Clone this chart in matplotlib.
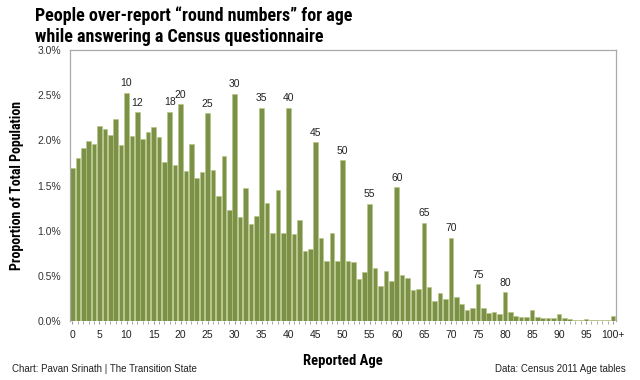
import numpy as np
import matplotlib
matplotlib.use("Agg")
import matplotlib.pyplot as plt
from matplotlib import font_manager

# Reported age (0..100+) and share of total population in percent
ages = list(range(101))
share = [
    1.69, 1.81, 1.92, 1.99, 1.96, 2.16, 2.13, 2.06, 2.24, 1.95,
    2.53, 2.05, 2.31, 2.02, 2.09, 2.15, 2.04, 1.76, 2.32, 1.73,
    2.40, 1.66, 1.96, 1.59, 1.65, 2.30, 1.67, 1.39, 1.83, 1.23,
    2.52, 1.15, 1.47, 1.07, 1.16, 2.36, 1.31, 0.98, 1.45, 0.98,
    2.36, 0.96, 1.12, 0.78, 0.80, 1.98, 0.92, 0.67, 0.97, 0.66,
    1.78, 0.66, 0.65, 0.47, 0.54, 1.30, 0.59, 0.39, 0.56, 0.44,
    1.48, 0.51, 0.48, 0.34, 0.35, 1.09, 0.38, 0.22, 0.31, 0.24,
    0.92, 0.27, 0.19, 0.12, 0.14, 0.41, 0.15, 0.09, 0.10, 0.08,
    0.32, 0.10, 0.06, 0.04, 0.04, 0.12, 0.05, 0.03, 0.03, 0.03,
    0.08, 0.03, 0.02, 0.01, 0.01, 0.02, 0.01, 0.01, 0.01, 0.01,
    0.06,
]
labelled = [10, 12, 18, 20, 25, 30, 35, 40, 45, 50, 55, 60, 65, 70, 75, 80]
tick_ages = list(range(0, 101, 5))
tick_labels = [str(a) for a in tick_ages[:-1]] + ["100+"]

# pick a condensed bold face if one is installed
installed = {f.name for f in font_manager.fontManager.ttflist}
narrow_name = None
for name in ['Liberation Sans Narrow', 'DejaVu Sans Condensed', 'Roboto Condensed']:
    if name in installed:
        narrow_name = name
        break
if narrow_name:
    head = [narrow_name, 'DejaVu Sans']
    title_size, ylab_size = 13, 10
else:
    head = ['Liberation Sans', 'DejaVu Sans']
    title_size, ylab_size = 11, 9

plt.rcParams['font.family'] = ['Liberation Sans', 'DejaVu Sans']

fig = plt.figure(figsize=(6.4, 3.8), dpi=100)
ax = fig.add_axes([0.109, 0.155, 0.853, 0.713])

ax.bar(ages, share, width=0.85, color='#7b9147', edgecolor='#b5c57e', linewidth=0.4)

for a in labelled:
    ax.text(a, share[a] + 0.05, str(a), ha='center', va='bottom', fontsize=7.5, color='#222222')

ax.set_xlim(-0.5, 100.5)
ax.set_ylim(0, 3.0)
ax.set_yticks(np.arange(0, 3.01, 0.5))
ax.set_yticklabels([f"{v:.1f}%" for v in np.arange(0, 3.01, 0.5)], fontsize=7.5, color='#333333')
ax.set_xticks(tick_ages)
ax.set_xticklabels(tick_labels, fontsize=7.5, color='#222222')
ax.set_xticks(ages, minor=True)
ax.tick_params(axis='x', which='both', length=2.5, color='#999999', pad=4)
ax.tick_params(axis='y', length=0, pad=6)

for side in ['left', 'top', 'right']:
    ax.spines[side].set_color('#aaaaaa')
    ax.spines[side].set_linewidth(0.9)
ax.spines['bottom'].set_visible(False)

ax.set_xlabel('Reported Age', fontsize=ylab_size + 0.5, fontweight='bold', family=head, labelpad=10)
ax.set_ylabel('Proportion of Total Population', fontsize=ylab_size, fontweight='bold', family=head, labelpad=10)

fig.text(0.055, 0.958, 'People over-report \u201cround numbers\u201d for age', fontsize=title_size,
         fontweight='bold', family=head, va='center')
fig.text(0.055, 0.902, 'while answering a Census questionnaire', fontsize=title_size,
         fontweight='bold', family=head, va='center')

fig.text(0.018, 0.03, 'Chart: Pavan Srinath | The Transition State', fontsize=7, color='#222222', va='center')
fig.text(0.977, 0.03, 'Data: Census 2011 Age tables', fontsize=7, color='#222222', va='center', ha='right')

fig.savefig('out.png', dpi=100)
